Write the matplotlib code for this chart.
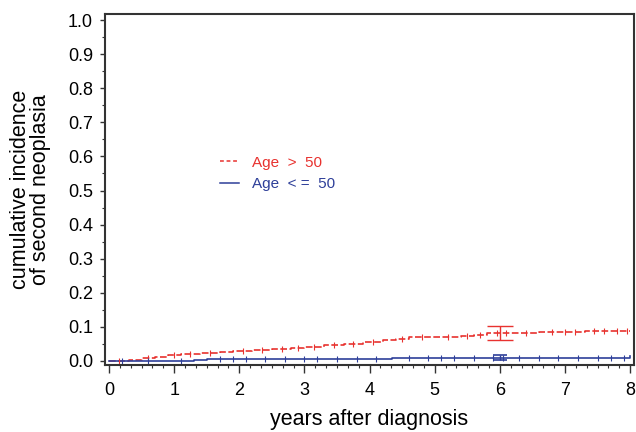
import numpy as np
import matplotlib.pyplot as plt
from matplotlib.ticker import MultipleLocator

plt.rcParams['font.family'] = ['Liberation Sans', 'DejaVu Sans']

# step curves (time in years, cumulative incidence)
old_t = [0.0, 0.3, 0.5, 0.7, 0.9, 1.1, 1.4, 1.7, 1.9, 2.2, 2.5, 2.8, 3.0,
         3.3, 3.6, 3.9, 4.2, 4.4, 4.6, 5.0, 5.4, 5.6, 5.8, 6.2, 6.6, 7.3, 8.0]
old_y = [0.0, 0.004, 0.008, 0.012, 0.017, 0.020, 0.024, 0.027, 0.030, 0.033,
         0.036, 0.039, 0.042, 0.046, 0.051, 0.056, 0.061, 0.065, 0.069, 0.071,
         0.073, 0.077, 0.081, 0.083, 0.085, 0.089, 0.089]
young_t = [0.0, 0.8, 1.3, 1.5, 4.35, 8.0]
young_y = [0.0, 0.001, 0.003, 0.006, 0.008, 0.013]

# censoring times
old_cens = [0.15, 0.6, 1.0, 1.25, 1.55, 2.05, 2.35, 2.65, 2.9, 3.15, 3.45,
            3.75, 4.05, 4.5, 4.8, 5.2, 5.5, 5.7, 5.95, 6.1, 6.4, 6.8, 7.0,
            7.15, 7.45, 7.6, 7.8, 7.95]
young_cens = [0.2, 0.6, 1.1, 1.7, 1.9, 2.1, 2.4, 2.7, 3.0, 3.2, 3.5, 3.8,
              4.1, 4.6, 4.9, 5.1, 5.3, 5.6, 5.9, 6.05, 6.3, 6.6, 6.9, 7.2,
              7.5, 7.7, 7.9]

# 95% CI at 6 years
ci_x = 6.0
old_ci = (0.083, 0.061, 0.103)
young_ci = (0.009, 0.003, 0.016)

red = '#e8322f'
blue = '#2e3f99'

fig = plt.figure(figsize=(6.36, 4.32), dpi=100)
ax = fig.add_axes([104.7/636, 1 - 365/432, (634 - 104.7)/636, (365 - 14)/432])

ax.step(old_t, old_y, where='post', color=red, lw=1.2, ls=(0, (4, 1.5)))
ax.step(young_t, young_y, where='post', color=blue, lw=1.2)

# censor marks sit on the step curves
old_cy = [old_y[np.searchsorted(old_t, c, side='right') - 1] for c in old_cens]
young_cy = [young_y[np.searchsorted(young_t, c, side='right') - 1] for c in young_cens]
ax.plot(old_cens, old_cy, ls='none', marker='|', ms=4, mew=0.8, color=red)
ax.plot(young_cens, young_cy, ls='none', marker='|', ms=4, mew=0.8, color=blue)

ax.errorbar([ci_x], [old_ci[0]], yerr=[[old_ci[0] - old_ci[1]], [old_ci[2] - old_ci[0]]],
            fmt='none', ecolor=red, elinewidth=1, capsize=9.4, capthick=1)
ax.errorbar([ci_x], [young_ci[0]], yerr=[[young_ci[0] - young_ci[1]], [young_ci[2] - young_ci[0]]],
            fmt='none', ecolor=blue, elinewidth=1, capsize=4.7, capthick=1.2)

ax.set_xlim(-0.067, 8.06)
ax.set_ylim(-0.012, 1.018)
ax.xaxis.set_major_locator(MultipleLocator(1))
ax.xaxis.set_minor_locator(MultipleLocator(1/6))
ax.set_yticks(np.arange(0, 1.01, 0.1))
ax.set_yticklabels(['%.1f' % v for v in np.arange(0, 1.01, 0.1)])
ax.yaxis.set_minor_locator(MultipleLocator(0.05))
ax.tick_params(axis='x', which='major', length=5.5, width=1, labelsize=13,
               color='#333333', pad=7)
ax.tick_params(axis='x', which='minor', length=2.5, width=0.8, color='#333333')
ax.tick_params(axis='y', which='major', length=3.5, width=1, labelsize=13,
               color='#333333', pad=5)
ax.tick_params(axis='y', which='minor', length=2.5, width=0.8, color='#333333')
for s in ax.spines.values():
    s.set_linewidth(1.5)
    s.set_color('#333333')

ax.set_xlabel('years after diagnosis', fontsize=15.5, labelpad=7)
ax.set_ylabel('cumulative incidence\nof second neoplasia', fontsize=15.5, labelpad=12,
              linespacing=0.95)

# legend drawn as text lines
ax.plot([1.705, 2.0], [0.588, 0.588], color=red, lw=1.1, ls=(0, (2.5, 1.8)))
ax.plot([1.705, 2.0], [0.522, 0.522], color=blue, lw=1.1)
ax.text(2.197, 0.581, 'Age  >  50', color=red, fontsize=11, va='center')
ax.text(2.197, 0.519, 'Age  < =  50', color=blue, fontsize=11, va='center')

plt.savefig('out.png', dpi=100)
